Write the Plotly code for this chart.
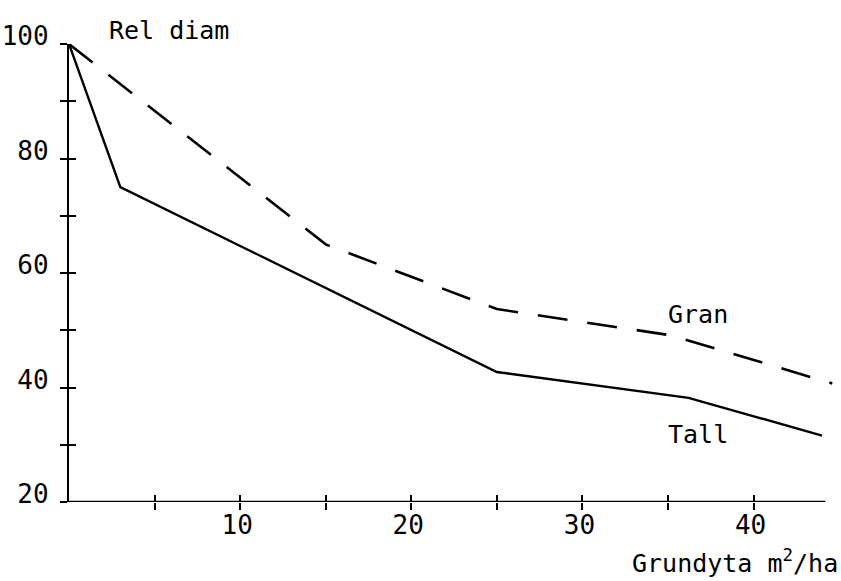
import plotly.graph_objects as go

# Data
tall_x = [0, 3, 25, 36.2, 44]
tall_y = [100, 75, 42.7, 38.2, 31.6]
gran_x = [0, 15, 25, 35.2, 44.6]
gran_y = [100, 65, 53.7, 49.1, 40.7]

y_label_vals = [20, 40, 60, 80, 100]
y_minor_vals = [30, 50, 70, 90]
x_label_vals = [10, 20, 30, 40]
x_minor_vals = [5, 15, 25, 35]

FONT = "DejaVu Sans Mono, Liberation Mono, monospace"
X_RANGE = [0, 44.7]
Y_RANGE = [20, 100]

fig = go.Figure()
fig.add_trace(go.Scatter(x=tall_x, y=tall_y, mode="lines", name="Tall",
                         line=dict(color="black", width=2.4)))
fig.add_trace(go.Scatter(x=gran_x, y=gran_y, mode="lines", name="Gran",
                         line=dict(color="black", width=2.6, dash="30px,20px")))

# invisible trace on the overlay axes (carries the inside half of each tick)
fig.add_trace(go.Scatter(x=[None], y=[None], xaxis="x2", yaxis="y2",
                         showlegend=False, hoverinfo="skip"))

# bottom axis line (ends a little before the plot edge)
fig.add_shape(type="line", xref="x", yref="y", x0=0, x1=44.2, y0=20, y1=20,
              line=dict(color="black", width=2.4))

axis_font = dict(family=FONT, size=26, color="black")
tick_style = dict(ticklen=7, tickwidth=2, tickcolor="black")

fig.update_layout(
    width=841, height=581,
    margin=dict(l=69, r=7, t=44, b=79),
    paper_bgcolor="white", plot_bgcolor="white",
    showlegend=False,
    font=dict(family=FONT, color="black"),
    xaxis=dict(range=X_RANGE, showgrid=False, zeroline=False, showline=False,
               automargin=False,
               tickmode="array", tickvals=x_label_vals,
               ticks="outside", **tick_style,
               minor=dict(tickvals=x_minor_vals, ticks="outside", **tick_style),
               tickfont=axis_font, ticklabelshift=-3, ticklabelstandoff=-7),
    yaxis=dict(range=Y_RANGE, showgrid=False, zeroline=False, showline=True,
               linecolor="black", linewidth=2.4, automargin=False,
               tickmode="array", tickvals=y_label_vals,
               ticks="outside", **tick_style,
               minor=dict(tickvals=y_minor_vals, ticks="outside", **tick_style),
               tickfont=axis_font, ticklabelshift=-8, ticklabelstandoff=6),
    xaxis2=dict(range=X_RANGE, overlaying="x", anchor="y", side="bottom",
                showgrid=False, zeroline=False, showline=False, automargin=False,
                tickmode="array", tickvals=x_minor_vals + x_label_vals,
                showticklabels=False, ticks="inside", **tick_style),
    yaxis2=dict(range=Y_RANGE, overlaying="y", anchor="x", side="left",
                showgrid=False, zeroline=False, showline=False, automargin=False,
                tickmode="array", tickvals=y_minor_vals + y_label_vals,
                showticklabels=False, ticks="inside", **tick_style),
)

fig.add_annotation(x=0.0497, y=1.03, xref="paper", yref="paper", text="Rel diam",
                   showarrow=False, xanchor="left", yanchor="middle",
                   font=dict(family=FONT, size=25, color="black"))
fig.add_annotation(x=34.9, y=52.7, xref="x", yref="y", text="Gran",
                   showarrow=False, xanchor="left", yanchor="middle",
                   font=dict(family=FONT, size=25, color="black"))
fig.add_annotation(x=34.9, y=31.8, xref="x", yref="y", text="Tall",
                   showarrow=False, xanchor="left", yanchor="middle",
                   font=dict(family=FONT, size=25, color="black"))
fig.add_annotation(x=1.0, y=-0.17, xref="paper", yref="paper",
                   text="Grundyta m<sup>2</sup>/ha", xshift=6,
                   showarrow=False, xanchor="right", yanchor="bottom",
                   font=dict(family=FONT, size=25, color="black"))

fig.write_html("out.html")
